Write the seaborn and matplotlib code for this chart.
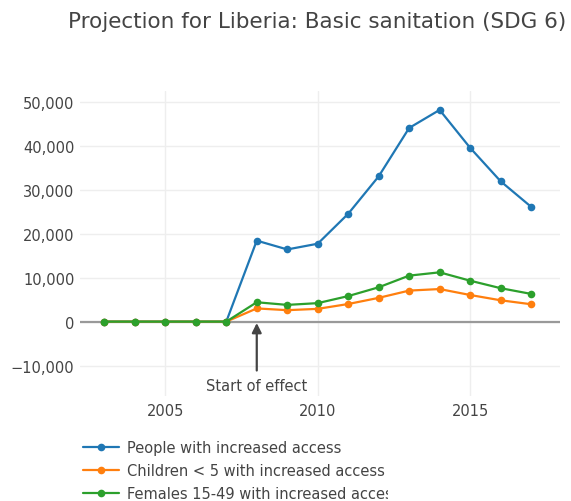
import matplotlib
matplotlib.use("Agg")
import matplotlib.pyplot as plt
import seaborn as sns
import pandas as pd
from matplotlib.ticker import FuncFormatter
from matplotlib.transforms import Bbox

years = list(range(2003, 2018))
people = [0, 0, 0, 0, 0, 18400, 16400, 17700, 24500, 33000, 44000, 48100, 39500, 31900, 26100]
children = [0, 0, 0, 0, 0, 3000, 2600, 2900, 4000, 5400, 7050, 7400, 6050, 4850, 3950]
females = [0, 0, 0, 0, 0, 4400, 3800, 4200, 5800, 7800, 10450, 11200, 9300, 7600, 6300]
series_names = ["People with increased access",
                "Children < 5 with increased access",
                "Females 15-49 with increased access"]
colors = ["#1f77b4", "#ff7f0e", "#2ca02c"]
title = "Projection for Liberia: Basic sanitation (SDG 6)"
annot_year = 2008
annot_text = "Start of effect"

df = pd.concat([
    pd.DataFrame({"year": years, "value": people, "series": series_names[0]}),
    pd.DataFrame({"year": years, "value": children, "series": series_names[1]}),
    pd.DataFrame({"year": years, "value": females, "series": series_names[2]}),
])

sns.set_style("white")
plt.rcParams['font.family'] = ['DejaVu Sans']

fig = plt.figure(figsize=(5.71, 5.02), dpi=100)
ax = fig.add_axes([80/571, 1-397/502, 480/571, 305/502])

sns.lineplot(data=df, x="year", y="value", hue="series", palette=colors,
             marker="o", markersize=5.5, markeredgewidth=0, linewidth=1.6,
             ax=ax, legend=True, zorder=3)

ax.set_xlim(2002.2, 2017.95)
ax.set_ylim(-16900, 52400)
ax.set_xticks([2005, 2010, 2015])
ax.set_yticks([-10000, 0, 10000, 20000, 30000, 40000, 50000])
ax.yaxis.set_major_formatter(FuncFormatter(lambda v, p: f"{v:,.0f}".replace("-", "\u2212")))
ax.grid(True, color="#eeeeee", linewidth=1)
ax.axhline(0, color="#999999", linewidth=1.6, zorder=2)
for s in ax.spines.values():
    s.set_visible(False)
ax.tick_params(axis="both", length=0, labelsize=10.5, labelcolor="#444444")
ax.tick_params(axis="x", pad=5)
ax.tick_params(axis="y", pad=4)
ax.set_xlabel("")
ax.set_ylabel("")

ax.annotate(annot_text, xy=(annot_year, 0), xytext=(annot_year, -14500),
            ha="center", va="center", fontsize=10.5, color="#444444",
            arrowprops=dict(arrowstyle="-|>", color="#444444", lw=1.6,
                            shrinkA=3, shrinkB=1, mutation_scale=14))

fig.text(317/571, 1-22/502, title, ha="center", va="center",
         fontsize=15.5, color="#444444")

handles, labels = ax.get_legend_handles_labels()
ax.get_legend().remove()
leg = fig.legend(handles, labels, loc="upper left",
                 bbox_to_anchor=(77/571, 1-435/502), frameon=False,
                 fontsize=10.5, handlelength=2.47, handletextpad=0.55,
                 labelspacing=0.55, borderaxespad=0)
for t in leg.get_texts():
    t.set_color("#444444")
fig.canvas.draw()
clip = Bbox.from_extents(0, 0, 388, 502)
for t in leg.get_texts():
    t.set_clip_on(True)
    t.set_clip_box(clip)

fig.savefig("out.png", dpi=100)
